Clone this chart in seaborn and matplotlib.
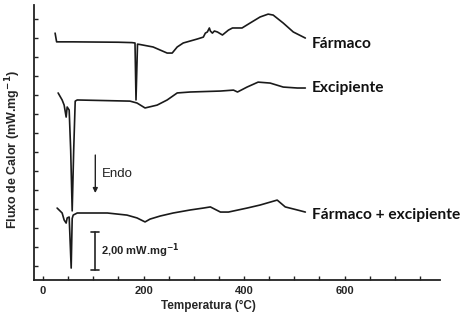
import numpy as np
import pandas as pd
import matplotlib
matplotlib.use("Agg")
import matplotlib.pyplot as plt
import seaborn as sns

# ---- data ----
farmaco_T = [24, 27, 60, 104, 150, 177, 183, 185, 188, 193, 219, 247, 257, 267, 279,
             307, 319, 323, 327, 331, 333, 337, 341, 347, 357, 369, 377, 396, 412,
             432, 448, 458, 478, 498, 522]
farmaco_v = [13.26, 12.8, 12.8, 12.79, 12.78, 12.76, 12.74, 9.74, 12.68, 12.66, 12.53,
             12.21, 12.21, 12.53, 12.74, 12.95, 13.05, 13.26, 13.32, 13.53, 13.37,
             13.26, 13.37, 13.32, 13.16, 13.42, 13.53, 13.53, 13.79, 14.11, 14.26,
             14.21, 13.79, 13.32, 13.0]

excip_T = [30, 38, 42, 46, 48, 52, 55, 58, 61, 64, 68, 173, 187, 203, 227, 247, 267,
           293, 353, 379, 387, 406, 428, 452, 478, 506, 522]
excip_v = [10.11, 9.74, 9.47, 8.84, 9.37, 9.21, 7.1, 3.9, 7.1, 9.68, 9.74, 9.68, 9.58,
           9.32, 9.47, 9.74, 10.11, 10.16, 10.21, 10.26, 10.16, 10.42, 10.68, 10.63,
           10.42, 10.37, 10.37]

mix_T = [28, 38, 42, 46, 48, 52, 56, 58, 60, 68, 128, 167, 187, 203, 213, 233, 259,
         293, 319, 333, 353, 369, 406, 432, 466, 482, 506, 522]
mix_v = [4.05, 3.79, 3.42, 3.26, 3.53, 3.58, 0.89, 3.5, 3.68, 3.79, 3.79, 3.68, 3.53,
         3.32, 3.47, 3.63, 3.79, 3.95, 4.05, 4.11, 3.84, 3.84, 4.05, 4.21, 4.47, 4.11,
         3.95, 3.84]

series_labels = ["Fármaco", "Excipiente", "Fármaco + excipiente"]
xtick_vals = [0, 200, 400, 600]

sns.set_style("ticks")
plt.rcParams['font.family'] = ['Liberation Sans', 'DejaVu Sans']

fig = plt.figure(figsize=(4.69, 3.25), dpi=100)
ax = fig.add_axes([34/469, 45/325, (440-34)/469, (280-5)/325])

line_kw = dict(color="#1a1a1a", linewidth=1.2, sort=False, estimator=None, legend=False)
for T, v in [(farmaco_T, farmaco_v), (excip_T, excip_v), (mix_T, mix_v)]:
    df = pd.DataFrame({"T": T, "v": v})
    sns.lineplot(data=df, x="T", y="v", ax=ax, **line_kw)

ax.set_xlim(-18, 790)
ax.set_ylim(0.263, 14.74)

ax.set_xticks(xtick_vals)
ax.set_xticks(np.arange(0, 800, 50), minor=True)
ax.set_xticklabels([str(t) for t in xtick_vals], fontweight="bold", fontsize=8)
ax.set_yticks(np.arange(1, 15))
ax.set_yticklabels([])
ax.tick_params(axis="both", which="both", direction="in", length=3, width=1, color="#222")
ax.tick_params(axis="x", pad=4)

for s in ["top", "right"]:
    ax.spines[s].set_visible(False)
for s in ["left", "bottom"]:
    ax.spines[s].set_linewidth(1.3)
    ax.spines[s].set_color("#222")

ax.set_xlabel("Temperatura (°C)", fontweight="bold", fontsize=8.5)
ax.xaxis.set_label_coords((208-34)/406, -(300-280)/275)
ax.xaxis.label.set_va("top")
ax.set_ylabel("Fluxo de Calor (mW.mg$^{\\mathbf{-1}}$)", fontweight="bold", fontsize=9)
ax.yaxis.set_label_coords(-(34-23)/406, (280-149)/275)

# curve labels
lab_x = 535
lab_font = dict(family=["Lato", "DejaVu Sans"], fontweight="bold", fontsize=11.2,
                va="center", ha="left", color="#111")
ax.text(lab_x, (285-44)/19, series_labels[0], **lab_font)
ax.text(lab_x, (285-88)/19, series_labels[1], **lab_font)
ax.text(lab_x, (285-215)/19, series_labels[2], **lab_font)

# Endo arrow
ax.annotate("", xy=(104, (285-193)/19), xytext=(104, (285-155)/19),
            arrowprops=dict(arrowstyle="-|>", color="#222", lw=1.0,
                            mutation_scale=7, shrinkA=0, shrinkB=0))
ax.text(118, (285-174)/19, "Endo", fontsize=9.5, va="center", ha="left", color="#222")

# scale bar 2,00 mW/mg
y_top = (285-232)/19
ax.plot([104, 104], [y_top - 2, y_top], color="#222", lw=1.2)
ax.plot([96, 112], [y_top, y_top], color="#222", lw=1.2)
ax.plot([96, 112], [y_top - 2, y_top - 2], color="#222", lw=1.2)
ax.text(116, y_top - 1, "2,00 mW.mg$^{\\mathbf{-1}}$", fontsize=8, fontweight="bold",
        va="center", ha="left", color="#222")

fig.savefig("out.png", dpi=100)
